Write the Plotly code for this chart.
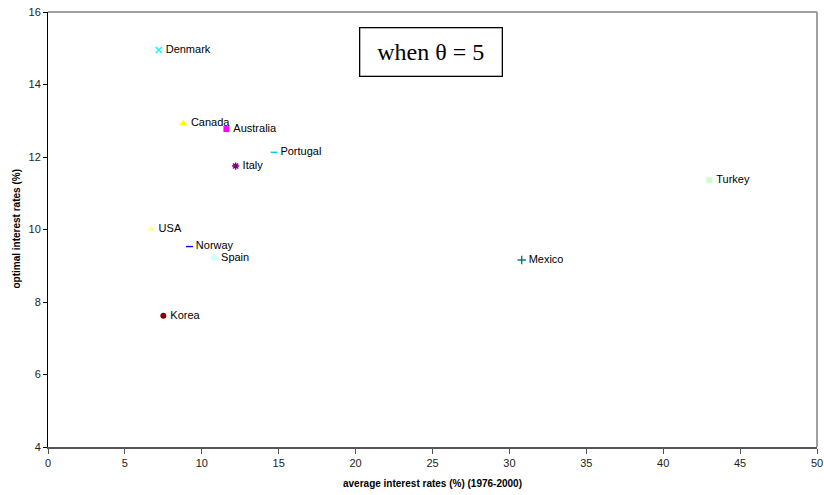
import plotly.graph_objects as go

countries = ["Denmark", "Canada", "Australia", "Portugal", "Italy", "USA",
             "Norway", "Spain", "Korea", "Mexico", "Turkey"]
avg_rates = [7.2, 8.8, 11.6, 14.7, 12.2, 6.7, 9.2, 10.8, 7.5, 30.8, 43.0]
opt_rates = [14.95, 12.93, 12.77, 12.13, 11.75, 10.02, 9.53, 9.22, 7.62, 9.16, 11.36]
symbols = ["x-thin", "triangle-up", "square", "line-ew", "asterisk", "triangle-up",
           "line-ew", "diamond", "circle", "cross-thin", "square"]
colors = ["#00FFFF", "#FFFF00", "#FF00FF", "#00CCFF", "#800080", "#FFFF99",
          "#0000FF", "#CCFFFF", "#800000", "#008080", "#CCFFCC"]
x_ticks = [0, 5, 10, 15, 20, 25, 30, 35, 40, 45, 50]
y_ticks = [4, 6, 8, 10, 12, 14, 16]

fig = go.Figure()
for c, xv, yv, s, col in zip(countries, avg_rates, opt_rates, symbols, colors):
    thin = s in ("x-thin", "cross-thin", "line-ew", "asterisk")
    size = 5 if s == "line-ew" else (7 if s == "triangle-up" else 6)
    fig.add_trace(go.Scatter(
        x=[xv], y=[yv], mode="markers+text", text=["\u2009" + c], textposition="middle right",
        textfont=dict(family="Arial, Liberation Sans", size=11, color="#000000"),
        marker=dict(symbol=s, size=size, color=col,
                    line=dict(color=col, width=1.4 if thin else 0)),
        showlegend=False, cliponaxis=False))

fig.update_layout(
    width=824, height=495,
    margin=dict(l=48, r=7, t=12, b=48, autoexpand=False),
    paper_bgcolor="white", plot_bgcolor="white",
    font=dict(family="Arial, Liberation Sans", size=11, color="#000000"),
    xaxis=dict(range=[0, 50], tickvals=x_ticks, showgrid=False, zeroline=False,
               showline=True, linecolor="#555555", linewidth=2, automargin=False,
               ticks="outside", ticklen=5, tickcolor="#555555",
               ticklabeloverflow="allow",
               tickfont=dict(color="#222222")),
    yaxis=dict(range=[4, 16], tickvals=y_ticks, showgrid=False, zeroline=False,
               showline=True, linecolor="#000000", linewidth=1, automargin=False,
               ticks="outside", ticklen=4, tickcolor="#000000",
               ticklabeloverflow="allow",
               tickfont=dict(color="#222222")),
    shapes=[
        dict(type="line", xref="paper", yref="paper", x0=0, x1=1, y0=1, y1=1,
             line=dict(color="#A0A0A0", width=2)),
        dict(type="line", xref="paper", yref="paper", x0=1, x1=1, y0=0, y1=1,
             line=dict(color="#A0A0A0", width=2)),
    ],
    annotations=[
        dict(text="when \u03b8 = 5", xref="paper", yref="paper",
             x=0.4044, y=0.9655, xanchor="left", yanchor="top",
             showarrow=False, width=125, height=31, align="center", valign="middle",
             font=dict(family="Liberation Serif, Times New Roman", size=24, color="#000000"),
             bordercolor="#000000", borderwidth=1.3, borderpad=8,
             bgcolor="white"),
        dict(text="<b>average interest rates (%) (1976-2000)</b>", xref="paper", yref="paper",
             x=0.5, y=-0.085, xanchor="center", yanchor="middle", showarrow=False,
             font=dict(size=10, color="#000000")),
        dict(text="<b>optimal interest rates (%)</b>", xref="paper", yref="paper",
             x=-0.0416, y=0.5, xanchor="center", yanchor="middle", showarrow=False,
             textangle=-90, font=dict(size=10, color="#000000")),
    ],
)

fig.write_html("out.html",
               config={"displayModeBar": False},
               post_script="document.body.style.margin='0';document.body.style.overflow='hidden';")
